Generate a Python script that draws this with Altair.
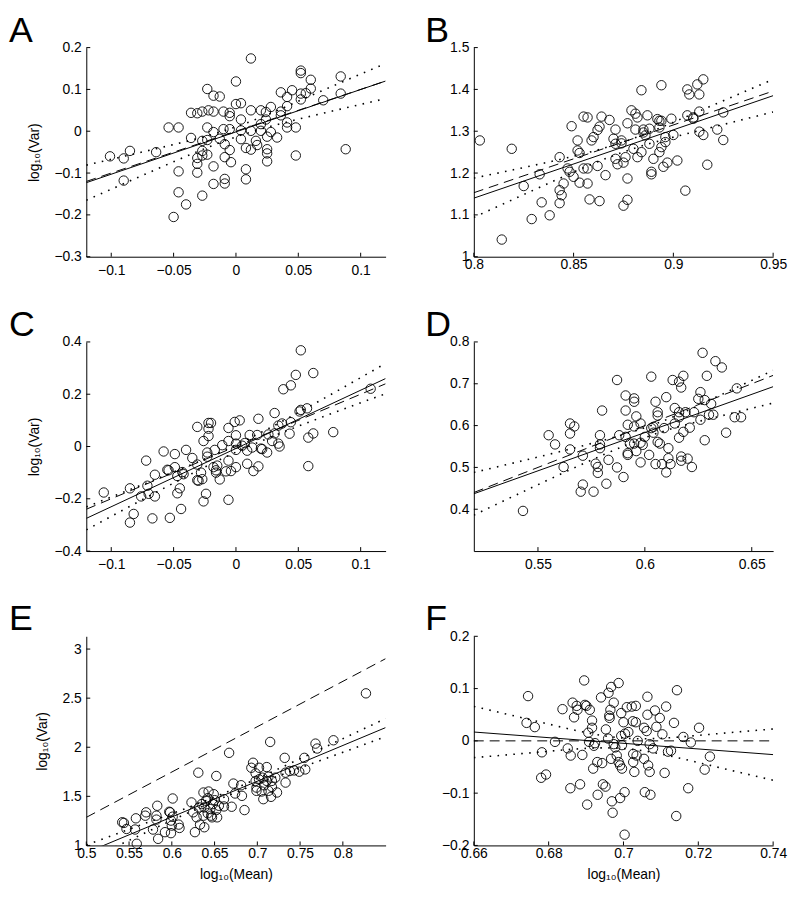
import altair as alt
import pandas as pd

FONT = "Liberation Sans, Arial, Helvetica, sans-serif"

# ---------------- Panel A ----------------
A_pts = [(-0.101,-0.060),(-0.090,-0.065),(-0.085,-0.047),(-0.090,-0.118),(-0.064,-0.050),(-0.054,0.009),
 (-0.046,0.009),(-0.046,-0.096),(-0.046,-0.146),(-0.040,-0.175),(-0.050,-0.205),(-0.036,0.044),(-0.031,0.043),
 (-0.027,0.047),(-0.022,0.050),(-0.018,0.047),(-0.023,0.101),(-0.018,0.085),(-0.013,0.083),(-0.036,-0.016),
 (-0.031,-0.064),(-0.031,-0.078),(-0.031,-0.099),(-0.027,-0.023),(-0.027,-0.047),(-0.027,-0.058),(-0.027,-0.154),
 (-0.023,0.009),(-0.023,-0.021),(-0.023,-0.056),(-0.018,-0.002),(-0.018,-0.084),(-0.018,-0.126),(-0.013,-0.018),
 (-0.010,0.047),(-0.010,0.005),(-0.009,-0.031),(-0.009,-0.062),(-0.009,-0.114),(-0.009,-0.125),(-0.005,0.044),
 (-0.005,0.036),(-0.005,0.005),(-0.005,-0.045),(-0.004,-0.074),(0.000,0.065),(0.000,0.119),(0.004,0.067),
 (0.004,0.028),(0.004,0.002),(0.004,-0.019),(0.008,-0.040),(0.008,-0.091),(0.008,-0.115),(0.012,0.174),
 (0.012,0.050),(0.012,0.001),(0.012,-0.044),(0.016,-0.023),(0.017,-0.033),(0.020,0.050),(0.020,0.017),
 (0.020,0.001),(0.024,0.046),(0.024,0.028),(0.025,-0.013),(0.025,-0.043),(0.025,-0.053),(0.025,-0.072),
 (0.028,0.058),(0.028,-0.002),(0.033,-0.015),(0.036,0.093),(0.036,0.047),(0.036,0.038),(0.041,0.082),
 (0.041,0.060),(0.041,0.021),(0.041,0.009),(0.045,0.098),(0.048,0.009),(0.048,-0.058),(0.052,0.145),
 (0.052,0.139),(0.052,0.090),(0.052,0.076),(0.056,0.091),(0.060,0.123),(0.060,0.102),(0.070,0.074),
 (0.084,0.131),(0.084,0.090),(0.088,-0.043)]
A_fit = [(-0.12,-0.123),(0.12,0.120)]
A_ref = [(-0.12,-0.12),(0.12,0.12)]
A_band_x = [-0.12,-0.06,0.0,0.06,0.12]
A_band_hi = [-0.081,-0.039,0.0105,0.085,0.162]
A_band_lo = [-0.165,-0.086,-0.0135,0.036,0.078]
A_xdom, A_ydom = [-0.12,0.12], [-0.3,0.2]
A_xticks = [-0.1,-0.05,0,0.05,0.1]
A_yticks = [-0.3,-0.2,-0.1,0,0.1,0.2]

# ---------------- Panel B ----------------
B_pts = [(0.803,1.278),(0.819,1.258),(0.814,1.041),(0.825,1.169),(0.829,1.090),(0.833,1.197),(0.834,1.130),
 (0.838,1.099),(0.843,1.238),(0.843,1.159),(0.844,1.147),(0.843,1.128),(0.845,1.175),(0.847,1.211),(0.848,1.203),
 (0.849,1.312),(0.850,1.191),(0.852,1.278),(0.852,1.254),(0.853,1.248),(0.853,1.177),(0.855,1.335),(0.855,1.211),
 (0.857,1.333),(0.857,1.211),(0.857,1.175),(0.858,1.137),(0.859,1.278),(0.860,1.286),(0.862,1.217),(0.862,1.303),
 (0.863,1.133),(0.863,1.311),(0.864,1.335),(0.866,1.195),(0.868,1.327),(0.871,1.304),(0.870,1.282),(0.871,1.270),
 (0.871,1.234),(0.872,1.221),(0.874,1.278),(0.874,1.271),(0.875,1.225),(0.875,1.122),(0.876,1.238),(0.877,1.319),
 (0.877,1.187),(0.877,1.136),(0.879,1.350),(0.880,1.258),(0.881,1.342),(0.881,1.304),(0.882,1.333),(0.882,1.238),
 (0.884,1.398),(0.884,1.250),(0.885,1.304),(0.885,1.297),(0.886,1.290),(0.887,1.338),(0.888,1.270),(0.888,1.306),
 (0.889,1.203),(0.889,1.197),(0.890,1.234),(0.892,1.329),(0.893,1.309),(0.893,1.325),(0.893,1.250),(0.894,1.262),
 (0.894,1.410),(0.894,1.325),(0.895,1.215),(0.896,1.286),(0.896,1.274),(0.897,1.225),(0.899,1.330),(0.900,1.291),
 (0.902,1.230),(0.906,1.158),(0.907,1.338),(0.907,1.400),(0.908,1.388),(0.910,1.333),(0.910,1.330),(0.912,1.412),
 (0.913,1.388),(0.913,1.347),(0.913,1.299),(0.915,1.424),(0.915,1.291),(0.917,1.220),(0.922,1.304),(0.925,1.345),
 (0.925,1.279)]
B_fit = [(0.80,1.140),(0.95,1.385)]
B_ref = [(0.80,1.153),(0.95,1.396)]
B_band_x = [0.80,0.84,0.875,0.91,0.95]
B_band_hi = [1.188,1.229,1.2745,1.342,1.424]
B_band_lo = [1.094,1.181,1.2505,1.298,1.346]
B_xdom, B_ydom = [0.8,0.95], [1.0,1.5]
B_xticks = [0.8,0.85,0.9,0.95]
B_yticks = [1,1.1,1.2,1.3,1.4,1.5]

# ---------------- Panel C ----------------
C_pts = [(-0.106,-0.176),(-0.085,-0.160),(-0.085,-0.291),(-0.082,-0.258),(-0.076,-0.191),(-0.072,-0.054),
 (-0.071,-0.150),(-0.070,-0.181),(-0.067,-0.275),(-0.065,-0.108),(-0.065,-0.191),(-0.058,-0.019),(-0.055,-0.089),
 (-0.054,-0.091),(-0.053,-0.273),(-0.049,-0.029),(-0.049,-0.079),(-0.047,-0.113),(-0.047,-0.179),(-0.045,-0.160),
 (-0.044,-0.239),(-0.043,-0.098),(-0.042,-0.106),(-0.040,-0.013),(-0.035,-0.044),(-0.031,0.075),(-0.031,-0.069),
 (-0.031,-0.129),(-0.030,-0.131),(-0.028,-0.100),(-0.027,-0.125),(-0.026,0.021),(-0.026,-0.210),(-0.024,-0.181),
 (-0.023,-0.039),(-0.023,-0.023),(-0.022,0.090),(-0.022,0.040),(-0.022,0.068),(-0.020,0.090),(-0.018,-0.079),
 (-0.017,-0.013),(-0.016,-0.091),(-0.016,-0.100),(-0.015,-0.073),(-0.013,-0.126),(-0.011,0.005),(-0.008,-0.095),
 (-0.006,0.071),(-0.006,-0.054),(-0.006,-0.204),(-0.006,0.021),(-0.004,-0.094),(-0.001,0.094),(0.000,0.043),
 (0.000,0.011),(0.000,-0.013),(0.000,-0.079),(0.003,0.100),(0.005,0.003),(0.007,0.013),(0.009,-0.016),
 (0.009,-0.066),(0.011,0.044),(0.013,-0.004),(0.014,-0.094),(0.017,0.044),(0.018,0.106),(0.018,-0.076),
 (0.020,-0.008),(0.021,-0.010),(0.025,-0.023),(0.026,0.046),(0.029,0.021),(0.031,0.128),(0.031,0.050),
 (0.034,0.080),(0.034,0.011),(0.035,0.000),(0.037,0.088),(0.038,0.219),(0.043,0.049),(0.044,0.234),
 (0.044,0.093),(0.048,0.274),(0.051,0.134),(0.052,0.368),(0.052,0.140),(0.057,0.146),(0.058,0.034),
 (0.058,-0.075),(0.062,0.281),(0.062,0.050),(0.078,0.055),(0.108,0.221)]
C_fit = [(-0.12,-0.275),(0.12,0.260)]
C_ref = [(-0.12,-0.24),(0.12,0.24)]
C_band_x = [-0.12,-0.06,0.0,0.06,0.12]
C_band_hi = [-0.231,-0.117,0.0065,0.156,0.318]
C_band_lo = [-0.319,-0.165,-0.0215,0.096,0.202]
C_xdom, C_ydom = [-0.12,0.12], [-0.4,0.4]
C_xticks = [-0.1,-0.05,0,0.05,0.1]
C_yticks = [-0.4,-0.2,0,0.2,0.4]

# ---------------- Panel D ----------------
D_pts = [(0.543,0.396),(0.555,0.577),(0.558,0.555),(0.562,0.501),(0.565,0.581),(0.565,0.605),(0.567,0.598),
 (0.565,0.543),(0.571,0.528),(0.571,0.459),(0.570,0.442),(0.576,0.442),(0.577,0.509),(0.578,0.501),(0.578,0.487),
 (0.579,0.577),(0.579,0.555),(0.579,0.546),(0.580,0.636),(0.582,0.461),(0.583,0.518),(0.587,0.500),(0.587,0.709),
 (0.588,0.577),(0.590,0.477),(0.591,0.573),(0.591,0.672),(0.591,0.636),(0.592,0.602),(0.592,0.530),(0.592,0.534),
 (0.593,0.557),(0.595,0.665),(0.595,0.657),(0.595,0.598),(0.595,0.557),(0.596,0.622),(0.596,0.539),(0.598,0.559),
 (0.598,0.605),(0.599,0.554),(0.598,0.512),(0.600,0.573),(0.602,0.530),(0.603,0.594),(0.603,0.717),(0.604,0.597),
 (0.604,0.583),(0.605,0.657),(0.605,0.508),(0.606,0.561),(0.606,0.632),(0.606,0.624),(0.607,0.557),(0.608,0.508),
 (0.609,0.594),(0.610,0.668),(0.610,0.488),(0.611,0.546),(0.611,0.522),(0.612,0.508),(0.613,0.709),(0.614,0.642),
 (0.614,0.605),(0.616,0.632),(0.616,0.620),(0.616,0.705),(0.617,0.691),(0.616,0.571),(0.617,0.526),(0.617,0.516),
 (0.618,0.719),(0.618,0.585),(0.619,0.632),(0.620,0.521),(0.621,0.595),(0.622,0.501),(0.623,0.632),(0.626,0.680),
 (0.625,0.664),(0.626,0.614),(0.627,0.774),(0.628,0.661),(0.628,0.565),(0.629,0.719),(0.630,0.626),(0.631,0.652),
 (0.632,0.626),(0.633,0.754),(0.636,0.739),(0.638,0.583),(0.642,0.620),(0.643,0.689),(0.645,0.620)]
D_fit = [(0.52,0.437),(0.66,0.693)]
D_ref = [(0.52,0.440),(0.66,0.720)]
D_band_x = [0.52,0.56,0.60,0.63,0.66]
D_band_hi = [0.488,0.5375,0.595,0.660,0.732]
D_band_lo = [0.386,0.4825,0.571,0.616,0.654]
D_xdom, D_ydom = [0.52,0.66], [0.3,0.8]
D_xticks = [0.55,0.6,0.65]
D_yticks = [0.4,0.5,0.6,0.7,0.8]

# ---------------- Panel E ----------------
E_pts = [(0.542,1.236),(0.544,1.229),(0.547,1.168),(0.558,1.276),(0.557,1.162),(0.559,1.017),(0.570,1.337),
 (0.569,1.303),(0.578,1.162),(0.583,1.404),(0.582,1.303),(0.582,1.263),(0.584,1.067),(0.592,1.135),(0.597,1.343),
 (0.598,1.337),(0.599,1.253),(0.600,1.202),(0.599,1.125),(0.601,1.478),(0.601,1.293),(0.608,1.212),(0.609,1.178),
 (0.623,1.438),(0.625,1.337),(0.627,1.135),(0.629,1.286),(0.631,1.741),(0.632,1.387),(0.633,1.212),(0.635,1.421),
 (0.637,1.539),(0.637,1.303),(0.638,1.185),(0.638,1.387),(0.640,1.455),(0.642,1.481),(0.642,1.327),(0.643,1.549),
 (0.645,1.370),(0.646,1.303),(0.647,1.286),(0.648,1.421),(0.649,1.522),(0.650,1.461),(0.652,1.360),(0.652,1.707),
 (0.653,1.286),(0.655,1.404),(0.661,1.471),(0.661,1.397),(0.667,1.943),(0.670,1.394),(0.672,1.630),(0.674,1.529),
 (0.681,1.613),(0.682,1.505),(0.685,1.360),(0.693,1.791),(0.695,1.842),(0.698,1.734),(0.698,1.657),(0.699,1.589),
 (0.699,1.556),(0.702,1.791),(0.702,1.673),(0.705,1.549),(0.706,1.690),(0.707,1.471),(0.708,1.613),(0.711,1.798),
 (0.711,1.657),(0.713,1.700),(0.713,1.556),(0.716,1.495),(0.717,1.596),(0.717,1.657),(0.721,1.690),(0.723,1.539),
 (0.715,2.054),(0.732,1.892),(0.733,1.640),(0.733,1.741),(0.738,1.758),(0.743,1.764),(0.749,1.751),(0.755,1.892),
 (0.756,1.774),(0.768,2.037),(0.770,1.987),(0.789,2.071),(0.827,2.549)]
E_fit = [(0.50,0.926),(0.85,2.200)]
E_ref = [(0.50,1.286),(0.85,2.902)]
E_band_x = [0.50,0.58,0.66,0.75,0.85]
E_band_hi = [1.004,1.260,1.528,1.883,2.292]
E_band_lo = [0.848,1.174,1.488,1.789,2.108]
E_xdom, E_ydom = [0.5,0.85], [1.0,3.13]
E_xticks = [0.5,0.55,0.6,0.65,0.7,0.75,0.8]
E_yticks = [1,1.5,2,2.5,3]

# ---------------- Panel F ----------------
F_pts = [(0.6745,0.0856),(0.6741,0.0344),(0.6763,0.0263),(0.6782,-0.0219),(0.6780,-0.0706),(0.6793,-0.0644),
 (0.6817,-0.0019),(0.6837,0.0606),(0.6851,-0.0144),(0.6858,-0.0906),(0.6859,-0.0281),(0.6864,0.0731),
 (0.6868,0.0450),(0.6875,0.0669),(0.6877,0.0594),(0.6884,-0.0831),(0.6890,-0.0269),(0.6895,0.1156),
 (0.6897,0.0688),(0.6901,0.0669),(0.6903,-0.1219),(0.6906,0.0156),(0.6908,-0.0019),(0.6910,0.0594),
 (0.6916,0.0388),(0.6916,0.0250),(0.6919,-0.0531),(0.6921,-0.0094),(0.6924,-0.0044),(0.6930,-0.0406),
 (0.6931,-0.1031),(0.6940,0.0831),(0.6943,-0.0425),(0.6945,-0.0831),(0.6952,-0.0875),(0.6953,0.0219),
 (0.6959,0.0044),(0.6960,0.0919),(0.6962,0.0481),(0.6963,0.0438),(0.6965,0.0594),(0.6967,0.1031),
 (0.6967,-0.0344),(0.6969,-0.1156),(0.6971,-0.1375),(0.6974,0.0731),(0.6974,-0.0063),(0.6978,-0.0125),
 (0.6982,-0.0281),(0.6987,0.1106),(0.6987,-0.0406),(0.6991,-0.0469),(0.6991,-0.1094),(0.6994,0.0531),
 (0.6994,0.0094),(0.6996,-0.0081),(0.6996,-0.0531),(0.7000,0.0356),(0.7003,-0.0981),(0.7003,-0.1794),
 (0.7004,0.0138),(0.7009,0.0644),(0.7013,0.0169),(0.7022,0.0656),(0.7025,0.0375),(0.7026,-0.0250),
 (0.7026,-0.0406),(0.7029,-0.0594),(0.7033,0.0669),(0.7033,0.0356),(0.7035,-0.0281),(0.7038,0.0000),
 (0.7055,0.0250),(0.7055,-0.0344),(0.7057,-0.0981),(0.7062,0.0188),(0.7064,0.0844),(0.7064,0.0500),
 (0.7066,-0.0469),(0.7070,-0.0063),(0.7070,-0.0594),(0.7072,-0.1031),(0.7079,-0.0144),(0.7084,0.0581),
 (0.7088,0.0269),(0.7097,0.0438),(0.7104,0.0125),(0.7110,-0.0613),(0.7114,0.0656),(0.7119,-0.0206),
 (0.7127,-0.0188),(0.7135,0.0344),(0.7141,-0.1438),(0.7143,0.0969),(0.7160,0.0075),(0.7173,-0.0906),
 (0.7180,-0.0031),(0.7202,0.0250),(0.7217,-0.0550),(0.7231,-0.0300)]
F_fit = [(0.66,0.0169),(0.74,-0.0263)]
F_ref = [(0.66,0.0),(0.74,0.0)]
F_band_x = [0.66,0.68,0.70,0.72,0.74]
F_band_hi = [0.0659,0.0321,0.0053,0.0105,0.0227]
F_band_lo = [-0.0321,-0.0199,-0.0147,-0.0415,-0.0753]
F_xdom, F_ydom = [0.66,0.74], [-0.2,0.2]
F_xticks = [0.66,0.68,0.7,0.72,0.74]
F_yticks = [-0.2,-0.1,0,0.1,0.2]

X_TITLE = "log₁₀(Mean)"
Y_TITLE = "log₁₀(Var)"
H = 211


def pairs_df(pairs):
    return pd.DataFrame({"x": [p[0] for p in pairs], "y": [p[1] for p in pairs]})


def panel(letter, pts, fit, ref, band_x, band_hi, band_lo, xdom, ydom, xticks, yticks,
          xtitle, ytitle, xlabpad, letter_dx, width):
    xs = alt.Scale(domain=xdom, nice=False, zero=False)
    ys = alt.Scale(domain=ydom, nice=False, zero=False)
    xaxis = alt.Axis(values=xticks, format="~g", ticks=False, tickSize=0, labelPadding=xlabpad,
                     labelFlush=False, labelOverlap=False, grid=False, titlePadding=7)
    yaxis = alt.Axis(values=yticks, format="~g", ticks=False, tickSize=0, labelPadding=5,
                     labelFlush=False, labelOverlap=False, grid=False, titlePadding=13)
    X = alt.X("x:Q", scale=xs, axis=xaxis, title=xtitle)
    Y = alt.Y("y:Q", scale=ys, axis=yaxis, title=ytitle)

    points = alt.Chart(pairs_df(pts)).mark_point(
        shape="circle", filled=False, color="black", size=90, strokeWidth=0.9, opacity=1
    ).encode(x=X, y=Y)

    fit_line = alt.Chart(pairs_df(fit)).mark_line(
        color="black", strokeWidth=1, clip=True).encode(x=X, y=Y)
    ref_line = alt.Chart(pairs_df(ref)).mark_line(
        color="black", strokeWidth=1, strokeDash=[10, 6], clip=True).encode(x=X, y=Y)
    hi_line = alt.Chart(pd.DataFrame({"x": band_x, "y": band_hi})).mark_line(
        color="black", strokeWidth=1.6, strokeDash=[1.6, 6.4], interpolate="natural", clip=True
    ).encode(x=X, y=Y)
    lo_line = alt.Chart(pd.DataFrame({"x": band_x, "y": band_lo})).mark_line(
        color="black", strokeWidth=1.6, strokeDash=[1.6, 6.4], interpolate="natural", clip=True
    ).encode(x=X, y=Y)

    xt = alt.Chart(pd.DataFrame({"x": xticks})).mark_rule(color="black", strokeWidth=1).encode(
        x=X, y=alt.value(H), y2=alt.value(H - 4))
    yt = alt.Chart(pd.DataFrame({"y": yticks})).mark_rule(color="black", strokeWidth=1).encode(
        y=Y, x=alt.value(0), x2=alt.value(4))

    lab = alt.Chart(alt.Data(values=[{"t": letter}])).mark_text(
        font=FONT, fontSize=36, color="black", align="left", baseline="alphabetic"
    ).encode(text="t:N", x=alt.value(letter_dx), y=alt.value(-6))

    return alt.layer(points, fit_line, ref_line, hi_line, lo_line, xt, yt, lab).properties(
        width=width, height=H)


WL, WR = 302, 302
pA = panel("A", A_pts, A_fit, A_ref, A_band_x, A_band_hi, A_band_lo, A_xdom, A_ydom,
           A_xticks, A_yticks, None, Y_TITLE, 7, -78, WL)
pB = panel("B", B_pts, B_fit, B_ref, B_band_x, B_band_hi, B_band_lo, B_xdom, B_ydom,
           B_xticks, B_yticks, None, None, 1, -49, WR)
pC = panel("C", C_pts, C_fit, C_ref, C_band_x, C_band_hi, C_band_lo, C_xdom, C_ydom,
           C_xticks, C_yticks, None, Y_TITLE, 7, -78, WL)
pD = panel("D", D_pts, D_fit, D_ref, D_band_x, D_band_hi, D_band_lo, D_xdom, D_ydom,
           D_xticks, D_yticks, None, None, 7, -49, WR)
pE = panel("E", E_pts, E_fit, E_ref, E_band_x, E_band_hi, E_band_lo, E_xdom, E_ydom,
           E_xticks, E_yticks, X_TITLE, Y_TITLE, 1, -78, WL)
pF = panel("F", F_pts, F_fit, F_ref, F_band_x, F_band_hi, F_band_lo, F_xdom, F_ydom,
           F_xticks, F_yticks, X_TITLE, None, 1, -49, WR)

chart = alt.ConcatChart(
    concat=[pA, pB, pC, pD, pE, pF], columns=2,
    spacing=alt.RowColnumber(row=86, column=89), bounds="flush",
    padding={"left": 0, "top": 0, "right": 0, "bottom": 0},
).configure_view(stroke="transparent").configure_axis(
    labelFont=FONT, labelFontSize=14, labelColor="black",
    titleFont=FONT, titleFontSize=14, titleFontWeight="normal", titleColor="black",
    domainColor="black", domainWidth=1, grid=False,
)

chart.save("out.html", embed_options={"renderer": "svg", "actions": False})
